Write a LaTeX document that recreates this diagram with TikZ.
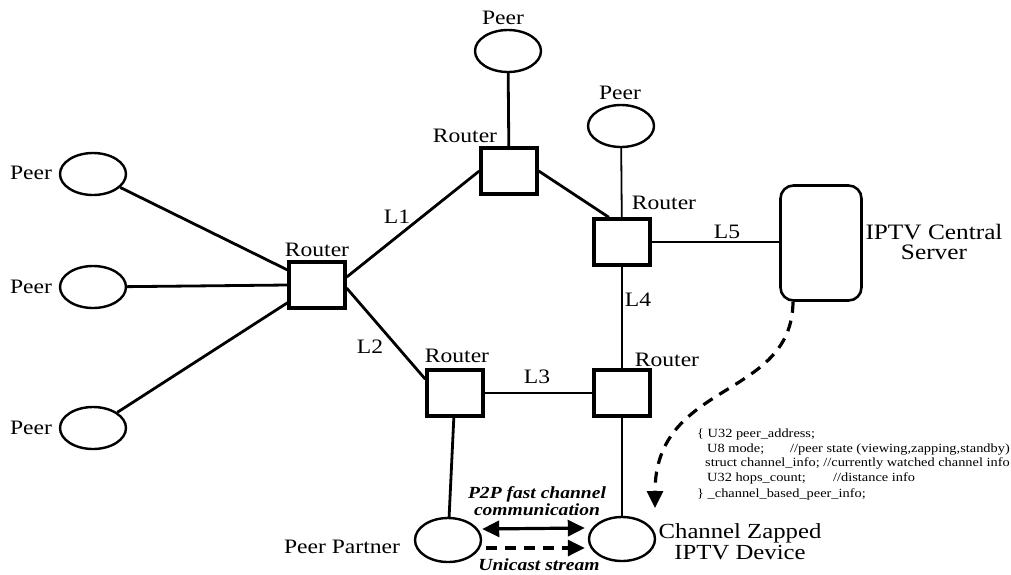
\documentclass[tikz,border=0pt]{standalone}
\usepackage{fontspec}
\setmainfont[FakeStretch=1.15]{Liberation Serif}
\usetikzlibrary{shapes.geometric,arrows.meta}
\begin{document}
\begin{tikzpicture}[x=1pt,y=-1pt,
		peer/.style={draw,ellipse,line width=2.4pt,minimum width=66pt,minimum height=42pt,inner sep=0pt},
		router/.style={draw,rectangle,line width=3.4pt,minimum width=56pt,minimum height=46pt,inner sep=0pt},
		link/.style={line width=2.8pt},
		thinlink/.style={line width=1.8pt},
		lbl/.style={inner sep=0pt,font=\fontsize{20.5}{22}\selectfont},
		flow/.style={line width=3.2pt,-{Triangle[length=17pt,width=16pt]}},
		code/.style={inner sep=0pt,align=left,font=\fontsize{12.5}{14.5}\selectfont}]
		\useasboundingbox (0,0) rectangle (1011,574);
		% peers and routers
		\node[peer] (peerA) at (93,174) {};
		\node[peer] (peerB) at (93,287) {};
		\node[peer] (peerC) at (93,428) {};
		\node[peer] (peerTop) at (508,51) {};
		\node[peer] (peerRight) at (621,126) {};
		\node[peer,minimum height=44pt] (partner) at (448,540) {};
		\node[peer,minimum height=44pt] (zapped) at (622,539) {};
		\node[router] (rLeft) at (317,285) {};
		\node[router] (rTop) at (509,171) {};
		\node[router] (rRight) at (622,242) {};
		\node[router] (rBottom) at (455,393) {};
		\node[router] (rCorner) at (622,393) {};
		\node[draw,rectangle,rounded corners=13pt,line width=2.6pt,minimum width=81pt,minimum height=115pt] (server) at (821,243) {};
		\coordinate (zaptip) at (655,508);
		% labels
		\node[lbl] (lpeerA) at (31,173) {Peer};
		\node[lbl] (lpeerB) at (31,287) {Peer};
		\node[lbl] (lpeerC) at (31,428) {Peer};
		\node[lbl] (lpeerTop) at (503,18) {Peer};
		\node[lbl] (lpeerRight) at (620,93) {Peer};
		\node[lbl] (lrLeft) at (317,250) {Router};
		\node[lbl] (lrTop) at (465,136) {Router};
		\node[lbl] (lrRight) at (664,203) {Router};
		\node[lbl] (lrBottom) at (457,356) {Router};
		\node[lbl] (lrCorner) at (667,360) {Router};
		\node[lbl] (lL1) at (397,217) {L1};
		\node[lbl] (lL2) at (370,347) {L2};
		\node[lbl] (lL3) at (537,377) {L3};
		\node[lbl] (lL4) at (638,300) {L4};
		\node[lbl] (lL5) at (727,232) {L5};
		\node[lbl,align=center,font=\fontsize{22}{20}\selectfont] (lserver) at (934,242) {IPTV Central\\Server};
		\node[lbl] (lpartner) at (342,547) {Peer Partner};
		\node[lbl,align=center,font=\fontsize{21.5}{21}\selectfont] (lzapped) at (740,542) {Channel Zapped\\IPTV Device};
		\node[lbl,align=center,font=\fontsize{17}{15}\selectfont\bfseries\itshape] (lp2p) at (537,501) {P2P fast channel\\communication};
		\node[lbl,font=\fontsize{17}{15}\selectfont\bfseries\itshape] (lunicast) at (539,565) {Unicast stream};
		\node[code,anchor=north west] (info) at (697,429) {\{ U32 peer\_address;\\
			\hspace*{10pt}\makebox[83pt][l]{U8 mode;}//peer state (viewing,zapping,standby)\\
			\hspace*{8pt}struct channel\_info; //currently watched channel info\\
			\hspace*{10pt}\makebox[126pt][l]{U32 hops\_count;}//distance info\\[2pt]
			\} \_channel\_based\_peer\_info;};
		% links
		\draw[link] (peerA) -- (rLeft.153);
		\draw[link] (peerB) -- (rLeft.west);
		\draw[link] (peerC) -- (rLeft.211);
		\draw[link] (rLeft.15) -- (rTop.west);
		\draw[link] (rLeft.-6) -- (rBottom.155);
		\draw[link] (peerTop) -- (rTop);
		\draw[link] (rTop.east) -- (rRight.118);
		\draw[thinlink] (peerRight) -- (rRight);
		\draw[link] (rRight.east) -- (rRight.east -| server.west);
		\draw[link] (rRight) -- (rCorner);
		\draw[link] (rBottom) -- (rCorner);
		\draw[link] (rBottom) -- (partner);
		\draw[thinlink] (rCorner) -- (zapped);
		\draw[flow,{Triangle[length=17pt,width=16pt]}-{Triangle[length=17pt,width=16pt]}] ([yshift=11pt]partner.east) -- ([yshift=11pt,xshift=-3pt]zapped.west);
		\draw[flow,dash pattern=on 11pt off 8pt] ([yshift=-8pt,xshift=4pt]partner.east) -- ([yshift=-9pt,xshift=-3pt]zapped.west);
		\draw[flow,dash pattern=on 11pt off 8pt] ([xshift=-28pt]server.south) .. controls (792,400) and (655,380) .. (zaptip);
	\end{tikzpicture}
\end{document}
